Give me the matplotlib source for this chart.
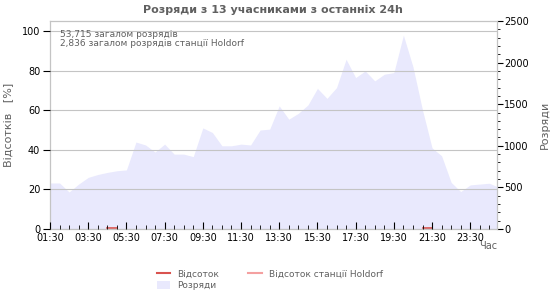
import matplotlib.pyplot as plt
from matplotlib.ticker import MultipleLocator, FixedLocator, FuncFormatter
from matplotlib.patches import Patch
from matplotlib.lines import Line2D

# time of each sample in hours (01:30 onward, every 30 minutes)
hours = [1.5 + 0.5 * i for i in range(48)]

# strikes per 30 minutes (right axis)
strikes = [553, 553, 445, 540, 620, 655, 680, 700, 710, 1045,
           1010, 925, 1020, 900, 900, 870, 1215, 1160, 1000, 1000,
           1020, 1010, 1190, 1200, 1480, 1320, 1390, 1490, 1690, 1570,
           1700, 2040, 1820, 1900, 1780, 1860, 1880, 2330, 1950, 1430,
           975, 880, 560, 450, 530, 540, 550, 500]

# percentage of strikes seen (left axis), mostly no data
percent = [None] * 48
percent[6] = 0.6
percent[7] = 0.6
percent[39] = 0.6
percent[40] = 0.6

title = "Розряди з 13 учасниками з останніх 24h"
total_text = "53,715 загалом розрядів"
station_text = "2,836 загалом розрядів станції Holdorf"

fill_color = "#e9e9fd"
grey = "#606060"

fig = plt.figure(figsize=(5.5, 3), dpi=100)
ax = fig.add_axes([50 / 550, 1 - 229 / 300, 447 / 550, 208 / 300])
ax2 = ax.twinx()

# area on the right axis, drawn behind the grid of the left axis
ax2.fill_between(hours, strikes, 0, color=fill_color, linewidth=0)
ax2.set_ylim(0, 2500)
ax2.yaxis.set_major_locator(MultipleLocator(500))
ax2.yaxis.set_minor_locator(MultipleLocator(100))
ax2.tick_params(axis="y", which="major", length=4, labelsize=7, colors="black", pad=1)
ax2.tick_params(axis="y", which="minor", length=2)
ax2.set_ylabel("Розряди", color=grey, fontsize=8, labelpad=8)

ax.set_zorder(ax2.get_zorder() + 1)
ax.patch.set_visible(False)

pct_x = [h if p is not None else float("nan") for h, p in zip(hours, percent)]
pct_y = [p if p is not None else float("nan") for p in percent]
ax.plot(pct_x, pct_y, color="#d9534f", linewidth=1.2)

ax.set_xlim(1.5, 24.9)
ax.set_ylim(0, 105)
ax.yaxis.set_major_locator(MultipleLocator(20))
ax.grid(axis="y", color="#c4c4c4", linewidth=0.8)
ax.set_axisbelow(False)
ax.tick_params(axis="y", length=5, labelsize=7, pad=2)
ax.set_ylabel("Відсотків   [%]", color=grey, fontsize=8, labelpad=6)

ax.xaxis.set_major_locator(FixedLocator(hours[::4]))
ax.xaxis.set_minor_locator(FixedLocator(hours))
ax.xaxis.set_major_formatter(FuncFormatter(lambda v, p: "%02d:%02d" % (int(v) % 24, round((v % 1) * 60))))
ax.tick_params(axis="x", which="major", direction="in", length=5, labelsize=7, pad=3)
ax.tick_params(axis="x", which="minor", direction="in", length=3)

for a in (ax, ax2):
    for s in a.spines.values():
        s.set_color("#c4c4c4")
        s.set_linewidth(0.8)

ax.text(0.022, 0.955, total_text, transform=ax.transAxes, fontsize=6.5, color=grey, va="top")
ax.text(0.022, 0.915, station_text, transform=ax.transAxes, fontsize=6.5, color=grey, va="top")

fig.text(488 / 550, 1 - 246 / 300, "Час", fontsize=7, color=grey, ha="center", va="center")
fig.text(273 / 550, 1 - 10 / 300, title, fontsize=8, fontweight="bold", color=grey, ha="center", va="center")

handles = [Line2D([], [], color="#d9534f", linewidth=1.5),
           Patch(facecolor=fill_color, edgecolor="none"),
           Line2D([], [], color="#f4a0a0", linewidth=1.5)]
labels = ["Відсоток", "Розряди", "Відсоток станції Holdorf"]
leg = fig.legend(handles, labels, ncol=2, loc="center", bbox_to_anchor=(270 / 550, 1 - 280 / 300),
                 frameon=False, fontsize=6.5, handlelength=1.5, handleheight=0.9,
                 columnspacing=3.2, labelspacing=0.3)
for t in leg.get_texts():
    t.set_color(grey)

fig.savefig("out.png", dpi=100)
